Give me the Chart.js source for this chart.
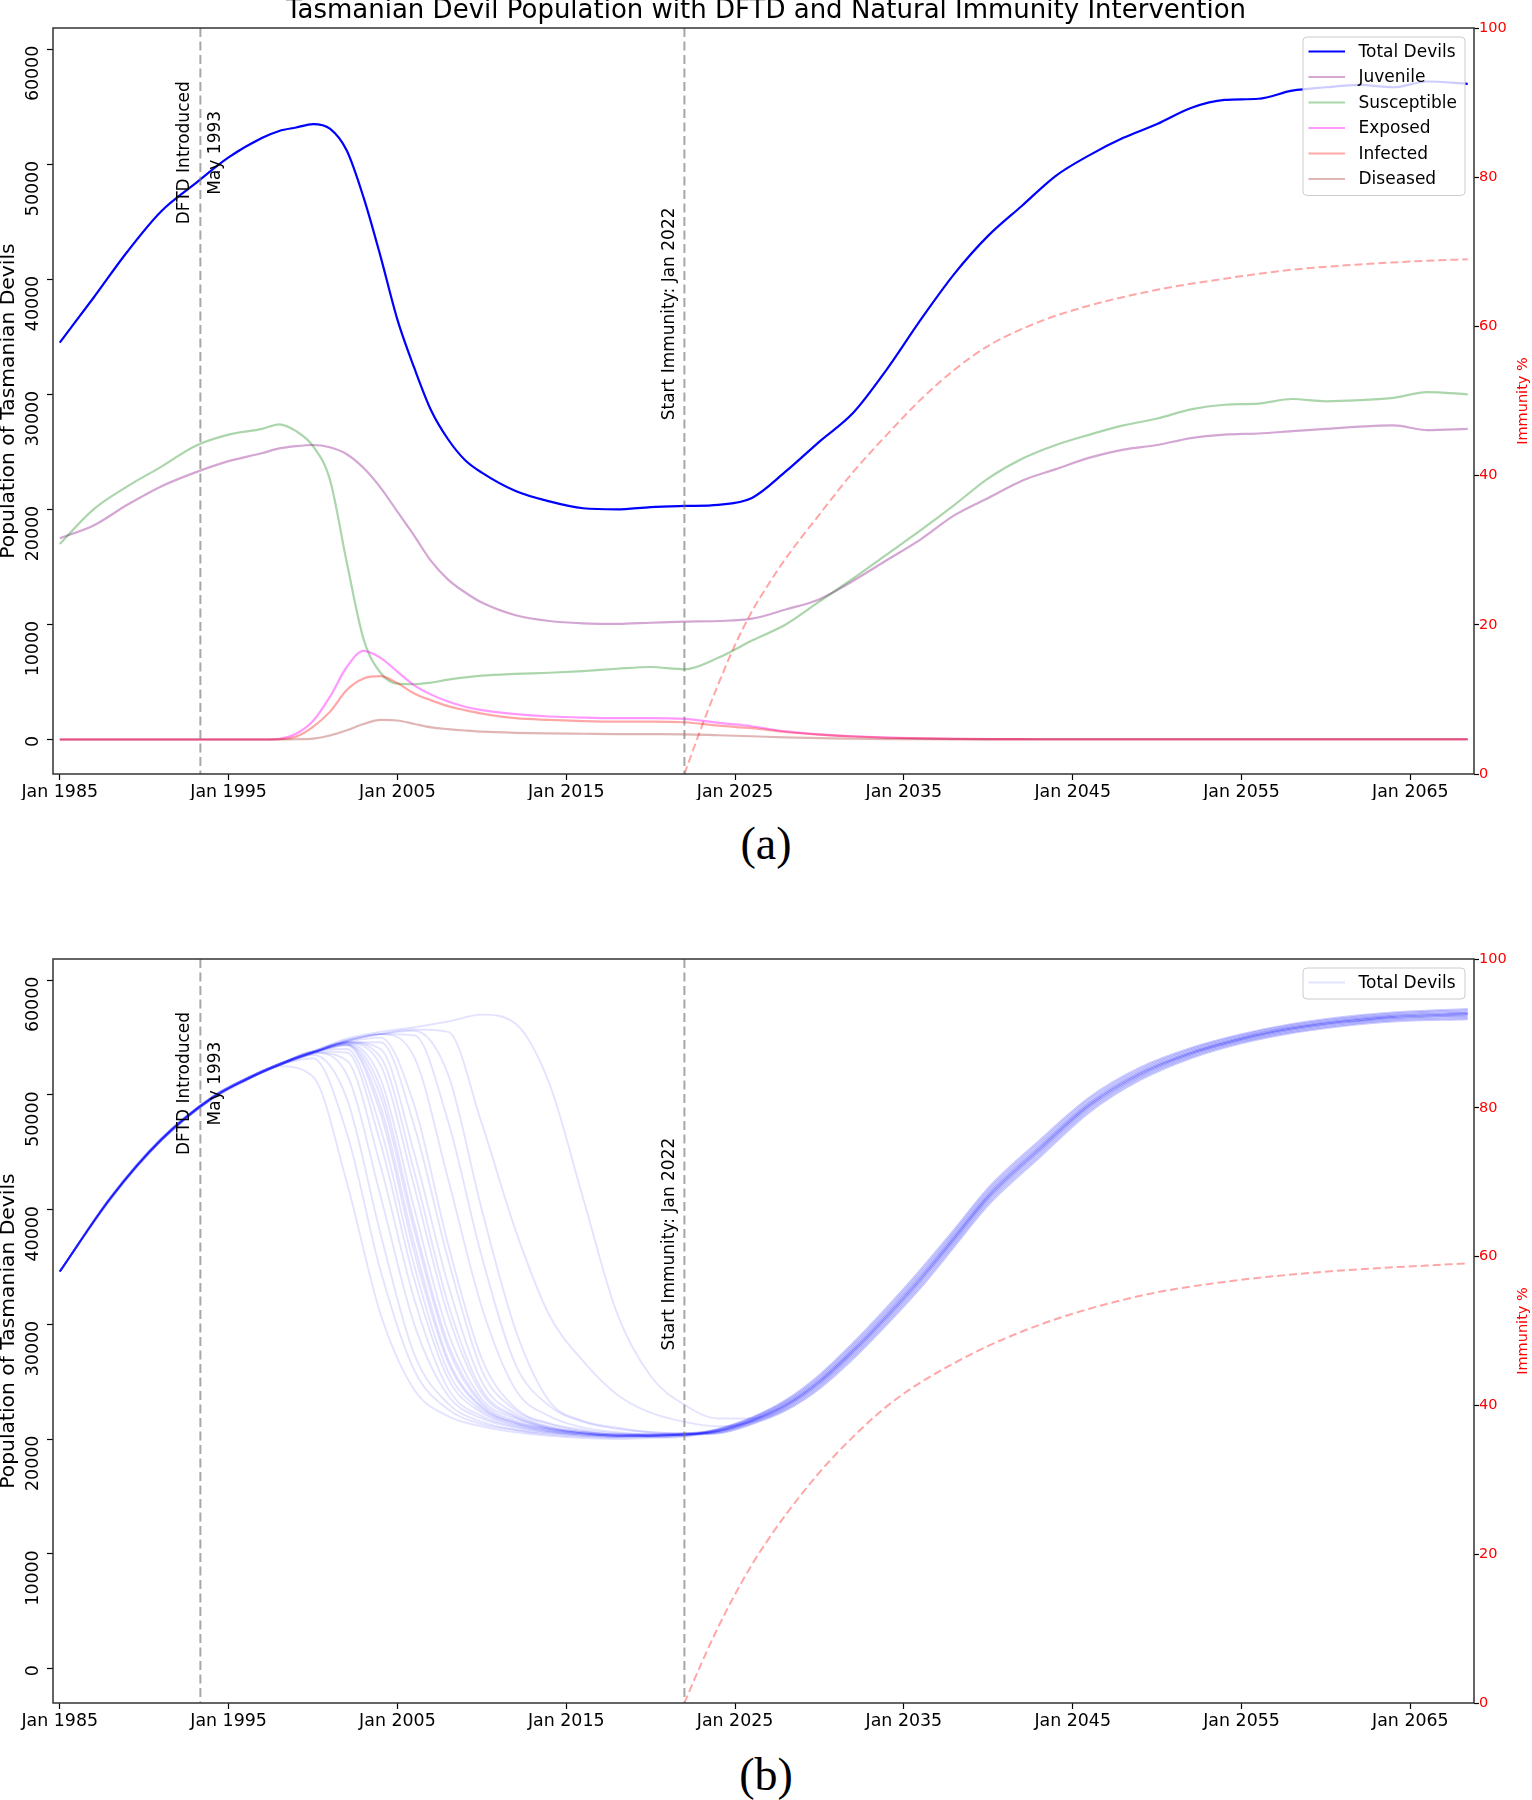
<!DOCTYPE html>
<html>
<head>
<meta charset="utf-8">
<title>Tasmanian Devil Population with DFTD and Natural Immunity Intervention</title>
<script src="https://cdn.jsdelivr.net/npm/chart.js@4.4.1/dist/chart.umd.min.js"></script>
<style>
  html, body { margin: 0; padding: 0; background: #fff; }
  #page { position: relative; width: 1532px; height: 1800px; overflow: hidden; background: #fff; }
  canvas { position: absolute; left: 0; }
  #chartA { top: 0; }
  #chartB { top: 930px; }
  .caption { position: absolute; left: 666px; width: 200px; text-align: center;
             font-family: 'Liberation Serif', 'DejaVu Serif', serif; font-size: 46px; line-height: 1; color: #000; }
  #capA { top: 821px; }
  #capB { top: 1752px; }
</style>
</head>
<body>
<div id="page">
  <canvas id="chartA" width="1532" height="800"></canvas>
  <div class="caption" id="capA">(a)</div>
  <canvas id="chartB" width="1532" height="800"></canvas>
  <div class="caption" id="capB">(b)</div>
</div>
<script>
// ---- axis ticks and markers ----
const xTickYears = [1985, 1995, 2005, 2015, 2025, 2035, 2045, 2055, 2065];
const popTicks = [0, 10000, 20000, 30000, 40000, 50000, 60000];
const immunityTicks = [0, 20, 40, 60, 80, 100];
const dftdYear = 1993.33;        // May 1993
const immunityStartYear = 2022;  // Jan 2022

// ---- panel (a): one simulation ----
const yearsA = [1985, 1987, 1989, 1991, 1993, 1995, 1997, 1998, 1999, 2000, 2001, 2002, 2003, 2004, 2005, 2006, 2007, 2008, 2009, 2010,
  2012, 2014, 2016, 2018, 2020, 2022, 2024, 2026, 2028, 2030, 2032, 2034, 2036, 2038, 2040, 2042, 2044, 2046, 2048, 2050,
  2052, 2054, 2056, 2058, 2060, 2062, 2064, 2066, 2068.4];
const totalDevils = [34500, 38400, 42400, 45900, 48300, 50600, 52300, 52900, 53200, 53500, 53100, 51200, 47100, 42000, 36500, 32300, 28600, 26100, 24300, 23200,
  21600, 20700, 20100, 20000, 20200, 20300, 20400, 21000, 23300, 25900, 28400, 32200, 36500, 40500, 43800, 46400, 49000, 50800, 52300, 53500,
  54900, 55600, 55700, 56400, 56700, 56900, 56700, 57200, 57000];
const juvenile = [17500, 18600, 20400, 22000, 23200, 24200, 24900, 25300, 25500, 25600, 25400, 24800, 23600, 21900, 19800, 17700, 15500, 13900, 12800, 11900,
  10800, 10300, 10100, 10050, 10150, 10250, 10300, 10500, 11300, 12200, 13800, 15600, 17400, 19500, 21000, 22500, 23500, 24500, 25200, 25600,
  26200, 26500, 26600, 26800, 27000, 27200, 27300, 26900, 27000];
const susceptible = [17000, 20000, 22000, 23700, 25500, 26500, 27000, 27400, 26800, 25500, 22600, 15400, 8700, 5800, 4850, 4800, 4950, 5200, 5400, 5550,
  5700, 5800, 5950, 6150, 6300, 6100, 7100, 8600, 10000, 12000, 14000, 16100, 18200, 20400, 22700, 24400, 25600, 26500, 27300, 27900,
  28700, 29100, 29200, 29600, 29400, 29500, 29700, 30200, 30000];
const exposed = [0, 0, 0, 0, 0, 0, 0, 60, 500, 1600, 3700, 6300, 7700, 7100, 5900, 4700, 3900, 3300, 2850, 2550,
  2200, 2000, 1900, 1850, 1850, 1800, 1450, 1150, 700, 450, 280, 160, 90, 50, 30, 25, 20, 20, 20, 20,
  20, 20, 20, 20, 20, 20, 20, 20, 20];
const infected = [0, 0, 0, 0, 0, 0, 0, 20, 250, 1100, 2400, 4300, 5300, 5500, 4900, 4000, 3400, 2900, 2550, 2250,
  1850, 1700, 1600, 1550, 1550, 1500, 1200, 980, 650, 420, 260, 150, 90, 50, 30, 25, 20, 20, 20, 20,
  20, 20, 20, 20, 20, 20, 20, 20, 20];
const diseased = [0, 0, 0, 0, 0, 0, 0, 0, 20, 80, 350, 800, 1350, 1700, 1650, 1350, 1050, 900, 780, 680,
  580, 530, 500, 470, 460, 450, 370, 280, 180, 110, 70, 40, 25, 15, 10, 10, 10, 10, 10, 10,
  10, 10, 10, 10, 10, 10, 10, 10, 10];
const immunityYears = [2022, 2023, 2024, 2025, 2026, 2027, 2028, 2030, 2032, 2034, 2036, 2038, 2040, 2043, 2046, 2050, 2054, 2058, 2062, 2066, 2068.4];
const immunityA = [0, 6.2, 12.0, 17.3, 21.8, 25.5, 28.9, 34.8, 40.5, 45.5, 50.2, 54.2, 57.4, 60.6, 62.8, 64.9, 66.4, 67.6, 68.3, 68.8, 69.0];

// ---- panel (b): repeated simulations of total devils ----
const yearsB = [1985, 1988, 1991, 1994, 1996, 1998, 2000, 2002, 2004, 2006, 2008, 2010, 2012, 2014, 2016, 2018, 2020, 2022,
  2024, 2026, 2028, 2030, 2032, 2034, 2036, 2038, 2040, 2043, 2046, 2049, 2052, 2055, 2058, 2061, 2064, 2068.4];
const run01 = [34600, 40900, 46000, 49600, 51200, 52500, 51600, 42400, 30900, 24300, 22000, 21100, 20600, 20300, 20100, 20000, 20100, 20200,
  20850, 21830, 23290, 25450, 28230, 31310, 34600, 38110, 41710, 45810, 49640, 52260, 53990, 55200, 56100, 56700, 57100, 57390];
const run02 = [34600, 41000, 46100, 49700, 51300, 52600, 53200, 46700, 34700, 26000, 22600, 21300, 20800, 20500, 20300, 20200, 20300, 20400,
  20700, 21600, 22950, 25000, 27700, 30750, 34000, 37550, 41150, 45250, 49150, 51850, 53650, 54900, 55800, 56400, 56800, 57050];
const run03 = [34600, 41100, 46200, 49800, 51400, 52700, 53500, 49700, 37900, 27400, 23100, 21500, 20800, 20400, 20200, 20100, 20200, 20300,
  20900, 21900, 23400, 25600, 28400, 31500, 34800, 38300, 41900, 46000, 49800, 52400, 54100, 55300, 56200, 56800, 57200, 57500];
const run04 = [34600, 41000, 46100, 49700, 51300, 52600, 53700, 51800, 41200, 30000, 23800, 21800, 21000, 20600, 20400, 20300, 20300, 20400,
  20550, 21380, 22610, 24550, 27180, 30190, 33400, 36990, 40590, 44690, 48660, 51440, 53310, 54600, 55500, 56100, 56500, 56710];
const run05 = [34600, 40900, 46000, 49600, 51300, 52600, 53700, 53000, 43800, 32200, 24400, 22000, 21100, 20600, 20300, 20200, 20200, 20300,
  20750, 21680, 23060, 25150, 27880, 30940, 34200, 37740, 41340, 45440, 49310, 51990, 53760, 55000, 55900, 56500, 56900, 57160];
const run06 = [34600, 41100, 46200, 49800, 51400, 52700, 53800, 54000, 47100, 35100, 25900, 22500, 21300, 20700, 20400, 20300, 20400, 20500,
  20800, 21750, 23180, 25300, 28050, 31130, 34400, 37930, 41530, 45630, 49480, 52130, 53880, 55100, 56000, 56600, 57000, 57280];
const run07 = [34600, 41000, 46100, 49700, 51300, 52600, 53600, 54400, 49000, 37000, 27000, 22800, 21400, 20800, 20500, 20300, 20300, 20400,
  20700, 21600, 22950, 25000, 27700, 30750, 34000, 37550, 41150, 45250, 49150, 51850, 53650, 54900, 55800, 56400, 56800, 57050];
const run08 = [34600, 41000, 46000, 49700, 51300, 52700, 53700, 54400, 50600, 38800, 28300, 23200, 21600, 20900, 20500, 20300, 20200, 20300,
  20600, 21450, 22730, 24700, 27350, 30380, 33600, 37180, 40780, 44880, 48830, 51580, 53430, 54700, 55600, 56200, 56600, 56830];
const run09 = [34600, 41100, 46100, 49800, 51400, 52700, 53700, 54500, 52600, 42000, 30800, 24000, 21900, 21000, 20600, 20400, 20300, 20400,
  20650, 21530, 22840, 24850, 27530, 30560, 33800, 37360, 40960, 45060, 48990, 51710, 53540, 54800, 55700, 56300, 56700, 56940];
const run10 = [34600, 41000, 46100, 49700, 51300, 52600, 53600, 54600, 54000, 44900, 33500, 25000, 22200, 21100, 20600, 20400, 20400, 20500,
  20850, 21830, 23290, 25450, 28230, 31310, 34600, 38110, 41710, 45810, 49640, 52260, 53990, 55200, 56100, 56700, 57100, 57390];
const run11 = [34600, 41000, 46200, 49800, 51400, 52700, 53700, 54600, 55000, 49100, 37000, 27000, 22700, 21400, 20800, 20500, 20400, 20400,
  20500, 21300, 22500, 24400, 27000, 30000, 33200, 36800, 40400, 44500, 48500, 51300, 53200, 54500, 55400, 56000, 56400, 56600];
const run12 = [34600, 40900, 46000, 49700, 51300, 52600, 53700, 54700, 55300, 53300, 42700, 31500, 24300, 22000, 21000, 20600, 20400, 20400,
  20750, 21680, 23060, 25150, 27880, 30940, 34200, 37740, 41340, 45440, 49310, 51990, 53760, 55000, 55900, 56500, 56900, 57160];
const run13 = [34600, 41000, 46100, 49800, 51400, 52700, 53800, 54800, 55300, 55200, 47700, 35900, 26500, 22900, 21500, 20900, 20600, 20500,
  20600, 21450, 22730, 24700, 27350, 30380, 33600, 37180, 40780, 44880, 48830, 51580, 53430, 54700, 55600, 56200, 56600, 56830];
const run14 = [34600, 41000, 46100, 49700, 51300, 52600, 53700, 54700, 55300, 55600, 51800, 40000, 29500, 23300, 21600, 21000, 20600, 20500,
  20800, 21750, 23180, 25300, 28050, 31130, 34400, 37930, 41530, 45630, 49480, 52130, 53880, 55100, 56000, 56600, 57000, 57280];
const run15 = [34600, 41000, 46100, 49700, 51300, 52600, 53700, 54700, 55300, 55700, 55500, 47500, 38200, 30800, 26800, 23900, 22300, 21500,
  21100, 21500, 22610, 24550, 27180, 30190, 33400, 36990, 40590, 44690, 48660, 51440, 53310, 54600, 55500, 56100, 56500, 56710];
const run16 = [34600, 41000, 46100, 49800, 51400, 52700, 53800, 54900, 55500, 55900, 56400, 57000, 56200, 51000, 41000, 31000, 25500, 23000,
  21800, 21800, 22840, 24850, 27530, 30560, 33800, 37360, 40960, 45060, 48990, 51710, 53540, 54800, 55700, 56300, 56700, 56940];
const run17 = [34600, 41000, 46100, 49700, 51300, 52600, 53700, 54500, 51400, 40100, 29300, 23500, 21800, 20900, 20500, 20300, 20300, 20400,
  20900, 21900, 23400, 25600, 28400, 31500, 34800, 38300, 41900, 46000, 49800, 52400, 54100, 55300, 56200, 56800, 57200, 57500];
const run18 = [34600, 41000, 46000, 49700, 51300, 52600, 53800, 53700, 45800, 33900, 25300, 22300, 21200, 20700, 20400, 20200, 20300, 20400,
  20500, 21300, 22500, 24400, 27000, 30000, 33200, 36800, 40400, 44500, 48500, 51300, 53200, 54500, 55400, 56000, 56400, 56600];
const run19 = [34600, 41000, 46100, 49800, 51400, 52700, 53700, 54400, 49900, 38200, 27900, 23000, 21500, 20900, 20500, 20300, 20300, 20400,
  20700, 21600, 22950, 25000, 27700, 30750, 34000, 37550, 41150, 45250, 49150, 51850, 53650, 54900, 55800, 56400, 56800, 57050];
const run20 = [34600, 40900, 46100, 49700, 51300, 52600, 53700, 54600, 53300, 43300, 31800, 24300, 22000, 21000, 20600, 20400, 20300, 20400,
  20750, 21680, 23060, 25150, 27880, 30940, 34200, 37740, 41340, 45440, 49310, 51990, 53760, 55000, 55900, 56500, 56900, 57160];
const run21 = [34600, 41000, 46100, 49700, 51400, 52700, 53800, 54600, 54600, 47300, 35700, 26000, 22500, 21300, 20700, 20400, 20400, 20500,
  20650, 21530, 22840, 24850, 27530, 30560, 33800, 37360, 40960, 45060, 48990, 51710, 53540, 54800, 55700, 56300, 56700, 56940];
const run22 = [34600, 41000, 46000, 49700, 51300, 52600, 53700, 54300, 48400, 36300, 26700, 22700, 21400, 20800, 20500, 20300, 20300, 20400,
  20700, 21600, 22950, 25000, 27700, 30750, 34000, 37550, 41150, 45250, 49150, 51850, 53650, 54900, 55800, 56400, 56800, 57050];
const runs = [run01, run02, run03, run04, run05, run06, run07, run08, run09, run10, run11,
  run12, run13, run14, run15, run16, run17, run18, run19, run20, run21, run22];
const immunityB = [0, 5.3, 10.2, 14.6, 18.6, 22.1, 25.3, 31.0, 35.8, 39.9, 43.1, 45.7, 48.0, 50.8, 53.0, 55.2, 56.6, 57.6, 58.3, 58.8, 59.1];

// ---- helpers ----
const FONT = "'DejaVu Sans', 'Liberation Sans', sans-serif";
Chart.defaults.font.family = FONT;
Chart.defaults.color = '#000';

const pts = (xs, ys) => xs.map((x, i) => ({x: x, y: ys[i]}));

function line(label, xs, ys, color, width, order, axis) {
  return {
    label: label,
    data: pts(xs, ys),
    borderColor: color,
    backgroundColor: color,
    borderWidth: width,
    pointRadius: 0,
    fill: false,
    cubicInterpolationMode: 'monotone',
    order: order,
    yAxisID: axis || 'y'
  };
}

function immunityLine(ys) {
  let ds = line('Immunity %', immunityYears, ys, 'rgba(255,0,0,0.35)', 2, -1, 'y1');
  ds.borderDash = [8, 4];
  return ds;
}

// rotated text, reading bottom to top, baseline at x
function vText(ctx, text, x, y) {
  ctx.save();
  ctx.translate(x, y);
  ctx.rotate(-Math.PI / 2);
  ctx.fillText(text, 0, 0);
  ctx.restore();
}

// vertical event lines, their notes and the frame
const markers = {
  id: 'markers',
  afterDatasetsDraw(chart) {
    const {ctx, chartArea: a, scales: {x, y}} = chart;
    ctx.save();
    ctx.beginPath();
    ctx.rect(a.left, a.top, a.width, a.height);
    ctx.clip();
    ctx.setLineDash([9, 4.5]);
    ctx.strokeStyle = 'rgba(120,120,120,0.65)';
    ctx.lineWidth = 2;
    [dftdYear, immunityStartYear].forEach(v => {
      const px = x.getPixelForValue(v);
      ctx.beginPath();
      ctx.moveTo(px, a.top);
      ctx.lineTo(px, a.bottom);
      ctx.stroke();
    });
    ctx.restore();

    ctx.save();
    ctx.font = '17px ' + FONT;
    ctx.fillStyle = '#000';
    ctx.textAlign = 'center';
    ctx.textBaseline = 'alphabetic';
    const xd = x.getPixelForValue(dftdYear);
    vText(ctx, 'DFTD Introduced', xd - 11, y.getPixelForValue(51000));
    vText(ctx, 'May 1993', xd + 20, y.getPixelForValue(51000));
    vText(ctx, 'Start Immunity: Jan 2022', x.getPixelForValue(immunityStartYear) - 10.5, y.getPixelForValue(37000));
    ctx.restore();

    ctx.save();
    ctx.strokeStyle = '#333';
    ctx.lineWidth = 1.5;
    ctx.strokeRect(a.left, a.top, a.width, a.height);
    ctx.restore();
  }
};

// legend inside the plot, top right
const boxLegend = {
  id: 'boxLegend',
  afterDatasetsDraw(chart) {
    const {ctx, chartArea: a} = chart;
    const items = chart.data.datasets.filter(ds => ds.label && ds.yAxisID !== 'y1');
    const w = 162, rowH = 25.5;
    const h = 14.5 + (items.length - 1) * rowH + 16.5;
    const x0 = a.right - 9 - w, y0 = a.top + 9;
    ctx.save();
    ctx.beginPath();
    if (ctx.roundRect) ctx.roundRect(x0, y0, w, h, 4); else ctx.rect(x0, y0, w, h);
    ctx.fillStyle = 'rgba(255,255,255,0.8)';
    ctx.fill();
    ctx.strokeStyle = '#cccccc';
    ctx.lineWidth = 1;
    ctx.stroke();
    ctx.font = '17px ' + FONT;
    ctx.textBaseline = 'middle';
    ctx.textAlign = 'left';
    items.forEach((ds, i) => {
      const cy = y0 + 14.5 + i * rowH;
      ctx.strokeStyle = ds.borderColor;
      ctx.lineWidth = ds.borderWidth;
      ctx.beginPath();
      ctx.moveTo(x0 + 5.5, cy);
      ctx.lineTo(x0 + 42, cy);
      ctx.stroke();
      ctx.fillStyle = '#000';
      ctx.fillText(ds.label, x0 + 55.5, cy + 1);
    });
    ctx.restore();
  }
};

// right axis title reads bottom to top, as in the original
const rightTitle = {
  id: 'rightTitle',
  afterDraw(chart) {
    const {ctx, chartArea: a} = chart;
    ctx.save();
    ctx.font = '14.5px ' + FONT;
    ctx.fillStyle = '#ff0000';
    ctx.textAlign = 'center';
    ctx.textBaseline = 'alphabetic';
    vText(ctx, 'Immunity %', chart.width - 5, (a.top + a.bottom) / 2);
    ctx.restore();
  }
};

function makeOptions(titleText, xAxisHeight, topPad) {
  return {
    responsive: false,
    animation: false,
    devicePixelRatio: 1,
    layout: {padding: {top: topPad, left: 0, right: 0, bottom: 0}},
    plugins: {
      legend: {display: false},
      tooltip: {enabled: false},
      title: {
        display: !!titleText,
        text: titleText,
        color: '#000',
        font: {size: 26, weight: 'normal', lineHeight: 0.9},
        padding: {top: 0, bottom: 4.6}
      }
    },
    scales: {
      x: {
        type: 'linear',
        min: 1984.6,
        max: 2068.77,
        afterBuildTicks: s => { s.ticks = xTickYears.map(v => ({value: v})); },
        afterFit: s => { s.height = xAxisHeight; },
        ticks: {callback: v => 'Jan ' + v, font: {size: 17.4}, color: '#000', padding: 2, maxRotation: 0, autoSkip: false},
        grid: {drawOnChartArea: false, drawTicks: true, tickLength: 6, tickColor: '#000', tickWidth: 1.2},
        border: {display: false}
      },
      y: {
        type: 'linear',
        position: 'left',
        min: -3000,
        max: 61850,
        afterBuildTicks: s => { s.ticks = popTicks.map(v => ({value: v})); },
        afterFit: s => { s.width = 53; },
        ticks: {callback: v => String(v), minRotation: 90, maxRotation: 90, crossAlign: 'near',
                padding: 14, labelOffset: -3.5, font: {size: 17.4}, color: '#000', autoSkip: false},
        grid: {drawOnChartArea: false, drawTicks: true, tickLength: 6, tickColor: '#000', tickWidth: 1.2},
        border: {display: false},
        title: {display: true, text: 'Population of Tasmanian Devils', color: '#000',
                font: {size: 20.3, lineHeight: 0.84}, padding: 0}
      },
      y1: {
        type: 'linear',
        position: 'right',
        min: 0,
        max: 100,
        afterBuildTicks: s => { s.ticks = immunityTicks.map(v => ({value: v})); },
        afterFit: s => { s.width = 58; },
        ticks: {callback: v => String(v), color: '#ff0000', font: {size: 14.5}, padding: 0, autoSkip: false},
        grid: {drawOnChartArea: false, drawTicks: true, tickLength: 5, tickColor: '#000', tickWidth: 1.2},
        border: {display: false}
      }
    }
  };
}

// ---- panel (a) ----
new Chart(document.getElementById('chartA').getContext('2d'), {
  type: 'line',
  data: {
    datasets: [
      line('Total Devils', yearsA, totalDevils, '#0000ff', 2.2, 6),
      line('Juvenile', yearsA, juvenile, 'rgba(128,0,128,0.35)', 2.2, 5),
      line('Susceptible', yearsA, susceptible, 'rgba(0,128,0,0.33)', 2.2, 4),
      line('Exposed', yearsA, exposed, 'rgba(255,0,255,0.4)', 2.2, 3),
      line('Infected', yearsA, infected, 'rgba(255,0,0,0.35)', 2.2, 2),
      line('Diseased', yearsA, diseased, 'rgba(165,42,42,0.35)', 2.2, 1),
      immunityLine(immunityA)
    ]
  },
  options: makeOptions('Tasmanian Devil Population with DFTD and Natural Immunity Intervention', 26, 0),
  plugins: [markers, boxLegend, rightTitle]
});

// ---- panel (b) ----
const runSets = runs.map((r, i) => line(i === 0 ? 'Total Devils' : '', yearsB, r, 'rgba(0,0,255,0.11)', 1.9, 5));
let immB = immunityLine(immunityB);
new Chart(document.getElementById('chartB').getContext('2d'), {
  type: 'line',
  data: {datasets: runSets.concat([immB])},
  options: makeOptions('', 27, 29),
  plugins: [markers, boxLegend, rightTitle]
});
</script>
</body>
</html>
